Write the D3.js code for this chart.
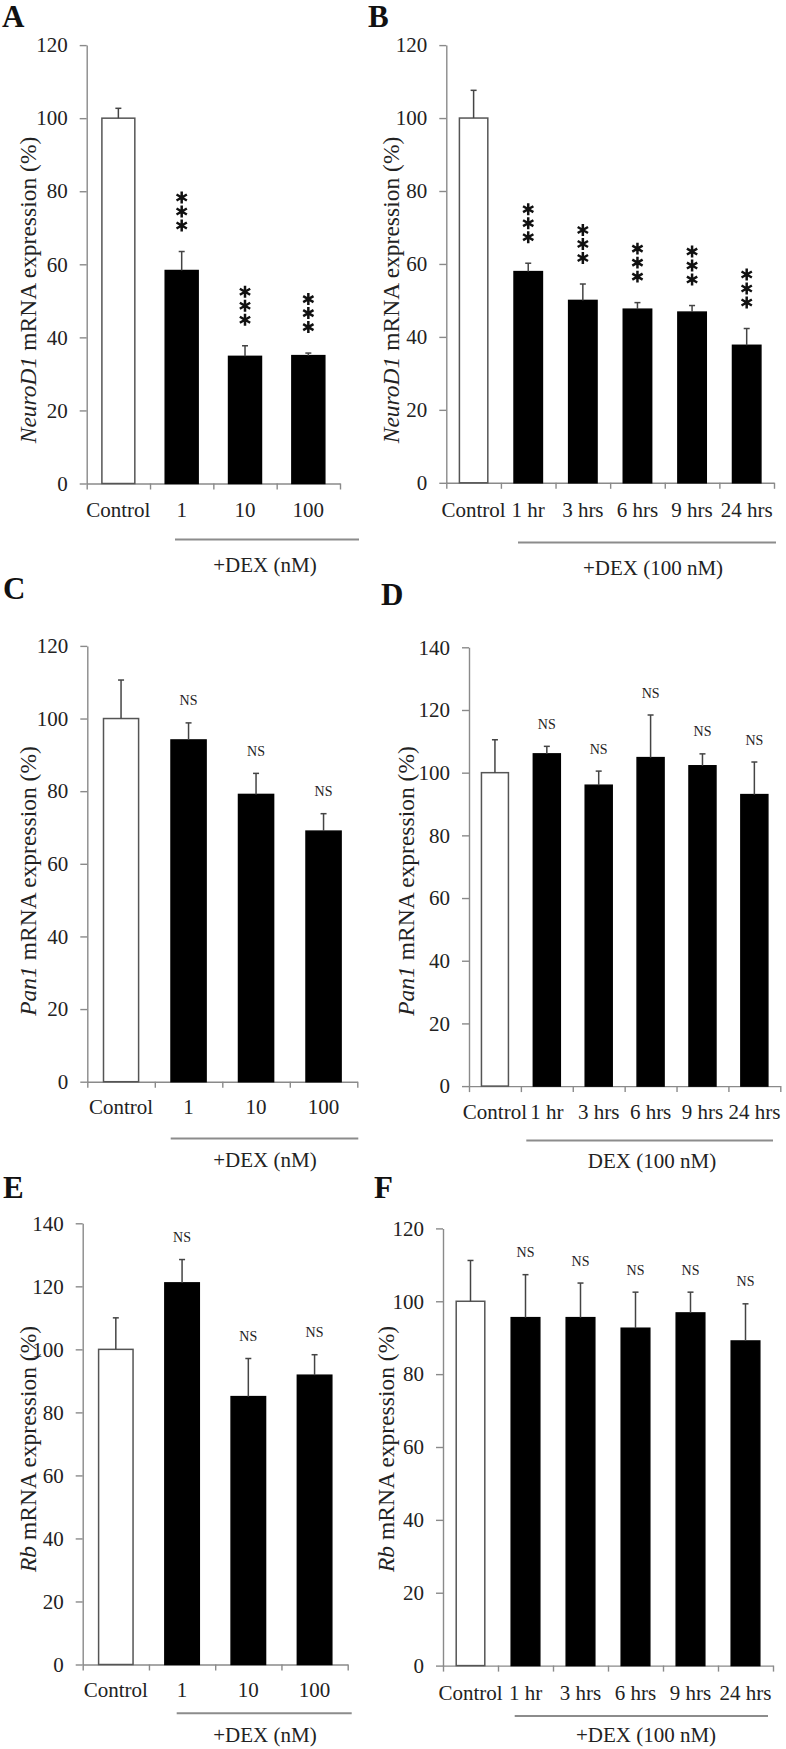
<!DOCTYPE html>
<html lang="en">
<head>
<meta charset="UTF-8" />
<title>NeuroD1, Pan1 and Rb mRNA expression</title>
<script src="https://d3js.org/d3.v7.min.js"></script>
<style>
  body { margin: 0; background: #fff; }
  svg { display: block; font-family: "Liberation Serif", "Times New Roman", serif; }
  .axis path, .axis line { stroke: #8a8a8a; stroke-width: 1.4px; }
  .axis text { fill: #222; font-size: 21px; font-family: "Liberation Serif", serif; }
  .cat { fill: #222; font-size: 21px; }
  .title { fill: #222; font-size: 23.5px; }
  .letter { fill: #111; font-size: 31px; font-weight: bold; }
  .ns { fill: #222; font-size: 14px; }
</style>
</head>
<body>
<svg id="fig" width="786" height="1749"></svg>
<script>
// categories
const doseCats = ["Control", "1", "10", "100"];
const timeCats = ["Control", "1 hr", "3 hrs", "6 hrs", "9 hrs", "24 hrs"];

// NeuroD1 (A, B)
const neuroDose    = [100, 58.3, 34.8, 35.0];
const neuroDoseErr = [2.7, 5.2, 2.9, 0.7];
const neuroDoseSig = ["", "***", "***", "***"];
const neuroTime    = [100, 57.9, 50.0, 47.6, 46.8, 37.7];
const neuroTimeErr = [7.6, 2.3, 4.5, 1.8, 1.8, 4.6];
const neuroTimeSig = ["", "***", "***", "***", "***", "***"];

// Pan1 (C, D)
const panDose    = [100, 94.1, 79.1, 69.0];
const panDoseErr = [10.6, 4.7, 5.8, 4.8];
const panTime    = [100, 106.0, 96.0, 104.8, 102.2, 93.0];
const panTimeErr = [10.5, 2.4, 4.5, 13.6, 3.8, 10.4];

// Rb (E, F)
const rbDose    = [100, 121.1, 85.0, 91.8];
const rbDoseErr = [10.0, 7.4, 12.1, 6.5];
const rbTime    = [100, 95.5, 95.5, 92.6, 96.8, 89.1];
const rbTimeErr = [11.2, 11.8, 9.5, 9.9, 5.7, 10.2];

const nsDose = ["", "NS", "NS", "NS"];
const nsTime = ["", "NS", "NS", "NS", "NS", "NS"];

const panels = [
  {letter: "A", gene: "NeuroD1", cats: doseCats, vals: neuroDose, errs: neuroDoseErr, sig: neuroDoseSig,
   yMax: 120, group: "+DEX (nM)",
   left: 86.7, right: 340, top: 45.1, bottom: 483.5, titleX: 28.3, titleY: 290,
   letterX: 2, letterY: 27, tickY: 510, braceY: 539.4, braceX: [175, 359], groupX: 265, groupY: 565},
  {letter: "B", gene: "NeuroD1", cats: timeCats, vals: neuroTime, errs: neuroTimeErr, sig: neuroTimeSig,
   yMax: 120, group: "+DEX (100 nM)",
   left: 446.3, right: 774, top: 45.1, bottom: 482.8, titleX: 391, titleY: 290,
   letterX: 368, letterY: 27, tickY: 510, braceY: 542.4, braceX: [518, 776], groupX: 653, groupY: 568},
  {letter: "C", gene: "Pan1", cats: doseCats, vals: panDose, errs: panDoseErr, sig: nsDose,
   yMax: 120, group: "+DEX (nM)",
   left: 87.3, right: 357.3, top: 645.9, bottom: 1081.7, titleX: 28.3, titleY: 881,
   letterX: 3, letterY: 599, tickY: 1107, braceY: 1138.6, braceX: [170.7, 358.3], groupX: 265, groupY: 1160},
  {letter: "D", gene: "Pan1", cats: timeCats, vals: panTime, errs: panTimeErr, sig: nsTime,
   yMax: 140, group: "DEX (100 nM)",
   left: 469, right: 780.3, top: 647.3, bottom: 1086.1, titleX: 405.5, titleY: 881,
   letterX: 381, letterY: 605, tickY: 1112, braceY: 1140.5, braceX: [526.3, 773], groupX: 652, groupY: 1161},
  {letter: "E", gene: "Rb", cats: doseCats, vals: rbDose, errs: rbDoseErr, sig: nsDose,
   yMax: 140, group: "+DEX (nM)",
   left: 82.7, right: 347.7, top: 1223.3, bottom: 1664.5, titleX: 28.3, titleY: 1449,
   letterX: 3, letterY: 1198, tickY: 1690, braceY: 1713.3, braceX: [176.7, 351.7], groupX: 265, groupY: 1735},
  {letter: "F", gene: "Rb", cats: timeCats, vals: rbTime, errs: rbTimeErr, sig: nsTime,
   yMax: 120, group: "+DEX (100 nM)",
   left: 443, right: 773, top: 1228.4, bottom: 1665.6, titleX: 386, titleY: 1449,
   letterX: 374, letterY: 1198, tickY: 1693, braceY: 1716, braceX: [514.7, 768], groupX: 646, groupY: 1735}
];

const svg = d3.select("#fig");
const star = d3.symbol(d3.symbolAsterisk, 100);

panels.forEach(p => {
  const g = svg.append("g");
  const n = p.cats.length;

  const x = d3.scaleBand().domain(p.cats).range([p.left, p.right]).padding(0);
  const xEdge = d3.scaleLinear().domain([0, n]).range([p.left, p.right]);
  const y = d3.scaleLinear().domain([0, p.yMax]).range([p.bottom, p.top]);
  const bw = x.bandwidth();
  const barW = bw * 0.52;
  const cx = c => x(c) + bw / 2;

  // axes
  g.append("g").attr("class", "axis")
    .attr("transform", `translate(${p.left},0)`)
    .call(d3.axisLeft(y).tickValues(d3.range(0, p.yMax + 1, 20))
      .tickSize(7).tickSizeOuter(0).tickPadding(12));

  g.append("g").attr("class", "axis")
    .attr("transform", `translate(0,${p.bottom})`)
    .call(d3.axisBottom(xEdge).tickValues(d3.range(n + 1))
      .tickSize(6).tickSizeOuter(0).tickFormat(""));

  // bars
  g.selectAll("rect.bar")
    .data(p.cats)
    .enter().append("rect")
      .attr("class", "bar")
      .attr("x", c => cx(c) - barW / 2)
      .attr("y", (c, i) => y(p.vals[i]))
      .attr("width", barW)
      .attr("height", (c, i) => y(0) - y(p.vals[i]))
      .attr("fill", (c, i) => i === 0 ? "#fff" : "#000")
      .attr("stroke", (c, i) => i === 0 ? "#555" : "#000")
      .attr("stroke-width", 1.5);

  // error bars (upper only)
  const eb = g.selectAll("g.err")
    .data(p.cats)
    .enter().append("g").attr("class", "err")
      .attr("stroke", "#444").attr("stroke-width", 1.5);
  eb.append("line")
    .attr("x1", c => cx(c)).attr("x2", c => cx(c))
    .attr("y1", (c, i) => y(p.vals[i]))
    .attr("y2", (c, i) => y(p.vals[i] + p.errs[i]));
  eb.append("line")
    .attr("x1", c => cx(c) - 3).attr("x2", c => cx(c) + 3)
    .attr("y1", (c, i) => y(p.vals[i] + p.errs[i]))
    .attr("y2", (c, i) => y(p.vals[i] + p.errs[i]));

  // significance marks
  p.cats.forEach((c, i) => {
    const top = y(p.vals[i] + p.errs[i]);
    if (p.sig[i] === "***") {
      [0, 1, 2].forEach(k => {
        g.append("path")
          .attr("d", star())
          .attr("transform", `translate(${cx(c)},${top - 26 - k * 14})`)
          .attr("fill", "none")
          .attr("stroke", "#111")
          .attr("stroke-width", 2.5);
      });
    } else if (p.sig[i] === "NS") {
      g.append("text")
        .attr("class", "ns")
        .attr("x", cx(c))
        .attr("y", top - 22)
        .attr("text-anchor", "middle")
        .attr("dominant-baseline", "central")
        .text("NS");
    }
  });

  // category labels
  g.selectAll("text.cat")
    .data(p.cats)
    .enter().append("text")
      .attr("class", "cat")
      .attr("x", c => cx(c))
      .attr("y", p.tickY)
      .attr("text-anchor", "middle")
      .attr("dominant-baseline", "central")
      .text(c => c);

  // group bracket + label
  g.append("line")
    .attr("x1", p.braceX[0]).attr("x2", p.braceX[1])
    .attr("y1", p.braceY).attr("y2", p.braceY)
    .attr("stroke", "#8c8c8c").attr("stroke-width", 2);
  g.append("text")
    .attr("class", "cat")
    .attr("x", p.groupX).attr("y", p.groupY)
    .attr("text-anchor", "middle")
    .attr("dominant-baseline", "central")
    .text(p.group);

  // y title
  const t = g.append("text")
    .attr("class", "title")
    .attr("transform", `translate(${p.titleX},${p.titleY}) rotate(-90)`)
    .attr("text-anchor", "middle")
    .attr("dominant-baseline", "central");
  t.append("tspan").attr("font-style", "italic").text(p.gene);
  t.append("tspan").text(" mRNA expression (%)");

  // panel letter
  g.append("text")
    .attr("class", "letter")
    .attr("x", p.letterX).attr("y", p.letterY)
    .text(p.letter);
});
</script>
</body>
</html>
